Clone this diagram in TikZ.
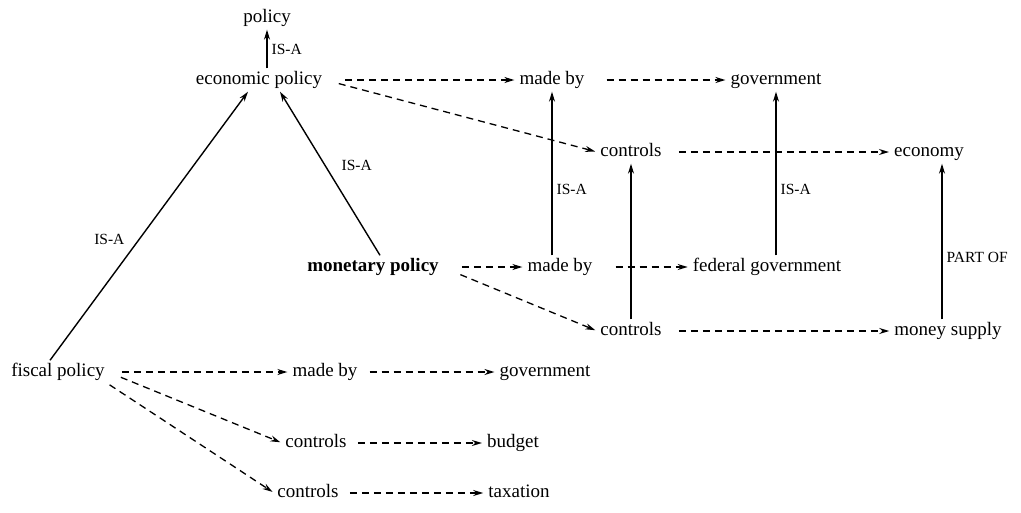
\documentclass[tikz,border=0pt]{standalone}
\usepackage{fontspec}
\setmainfont{Liberation Serif}
\usetikzlibrary{arrows.meta, positioning}

\begin{document}
\begin{tikzpicture}[x=1pt, y=-1pt,
    concept/.style={inner sep=3pt, text height=13pt, text depth=4pt, font=\fontsize{19}{22}\selectfont},
    linklabel/.style={inner sep=2pt, font=\fontsize{15.5}{18}\selectfont},
    isa/.style={-{Stealth[length=10pt, width=6pt]}, line width=1.4pt},
    rel/.style={-{Stealth[length=10pt, width=6pt]}, line width=1.3pt, dash pattern=on 7pt off 5pt, shorten <=14pt, shorten >=2pt}]
    \useasboundingbox (0,0) rectangle (1021,512);

    % top hierarchy
    \node[concept] (policy) at (267,18) {policy};
    \node[concept] (econ) at (259,80) {economic policy};
    \node[concept] (tmade) at (552,80) {made by};
    \node[concept] (tgov) at (776,80) {government};
    \node[concept] (tctrl) at (631,152) {controls};
    \node[concept] (economy) at (929,152) {economy};

    % monetary policy
    \node[concept, font=\fontsize{19}{22}\selectfont\bfseries] (monetary) at (373,267) {monetary policy};
    \node[concept] (mmade) at (560,267) {made by};
    \node[concept] (fedgov) at (767,267) {federal government};
    \node[concept] (mctrl) at (631,331) {controls};
    \node[concept] (msupply) at (948,331) {money supply};

    % fiscal policy
    \node[concept] (fiscal) at (58,372) {fiscal policy};
    \node[concept] (fmade) at (325,372) {made by};
    \node[concept] (fgov) at (545,372) {government};
    \node[concept] (fctrl1) at (316,443) {controls};
    \node[concept] (budget) at (513,443) {budget};
    \node[concept] (fctrl2) at (308,493) {controls};
    \node[concept] (taxation) at (519,493) {taxation};

    % IS-A / PART OF links
    \draw[isa] (econ.north -| policy) -- (policy) node[linklabel, midway, right=2pt] {IS-A};
    \draw[isa] ([xshift=-8pt]fiscal.north) -- ([xshift=-11pt]econ.south) node[linklabel, pos=0.45, left=12pt] {IS-A};
    \draw[isa] ([xshift=7pt]monetary.north) -- ([xshift=21pt]econ.south) node[linklabel, pos=0.55, right=14pt] {IS-A};
    \draw[isa] (mmade.north -| tmade) -- (tmade) node[linklabel, pos=0.4, right=2pt] {IS-A};
    \draw[isa] (fedgov.north -| tgov) -- (tgov) node[linklabel, pos=0.4, right=2pt] {IS-A};
    \draw[isa] (mctrl) -- (tctrl);
    \draw[isa] ([xshift=-6pt]msupply.north) -- ([xshift=-6pt]msupply.north |- economy.south) node[linklabel, pos=0.4, right=2pt] {PART OF};

    % relations
    \draw[rel, shorten <=20pt] (econ.east) -- (tmade.west);
    \draw[rel] (econ.east) -- (tctrl.west);
    \draw[rel, shorten <=19pt] (tmade) -- (tgov);
    \draw[rel] (tctrl) -- (economy);
    \draw[rel, shorten <=20pt] (monetary.east) -- (mmade.west);
    \draw[rel, shorten <=20pt] (monetary.east) -- (mctrl.west);
    \draw[rel, shorten <=20pt] (mmade) -- (fedgov);
    \draw[rel] (mctrl) -- (msupply);
    \draw[rel] (fiscal.east) -- (fmade.west);
    \draw[rel, shorten <=9pt] (fmade) -- (fgov);
    \draw[rel] (fiscal.east) -- (fctrl1.west);
    \draw[rel, shorten <=2pt] (fiscal.south east) -- (fctrl2.west);
    \draw[rel, shorten <=8pt] (fctrl1) -- (budget);
    \draw[rel, shorten <=8pt] (fctrl2) -- (taxation);
\end{tikzpicture}
\end{document}
